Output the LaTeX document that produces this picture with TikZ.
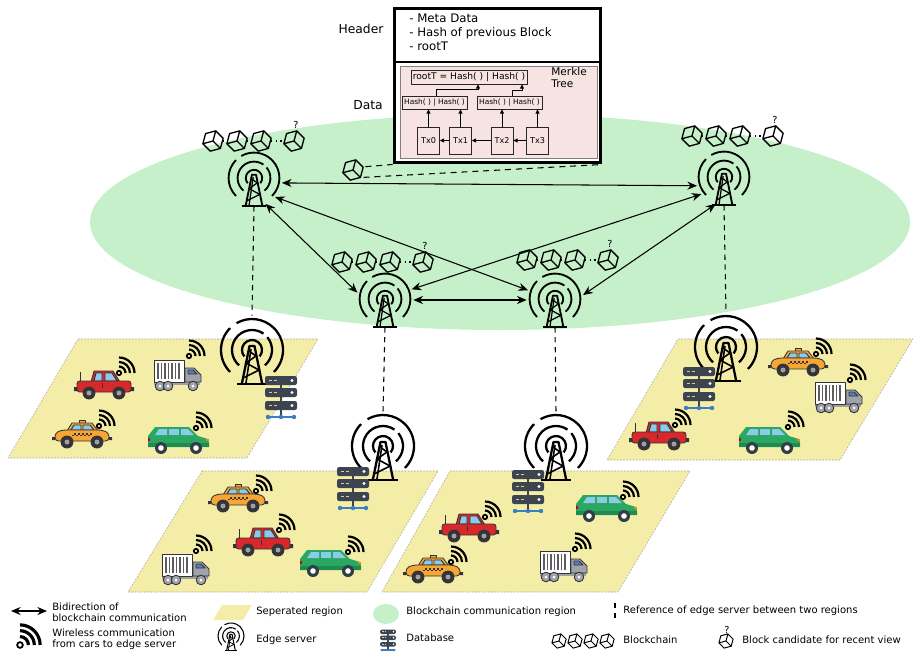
\documentclass[tikz,border=0pt]{standalone}
\usepackage{fontspec}
\setmainfont{DejaVu Sans}
\usetikzlibrary{arrows.meta,calc}

% colours
\definecolor{chaingreen}{RGB}{198,240,201}
\definecolor{regionyellow}{RGB}{244,237,168}
\definecolor{merklepink}{RGB}{247,228,226}
\definecolor{carred}{RGB}{216,40,44}
\definecolor{carorange}{RGB}{246,166,50}
\definecolor{carblue}{RGB}{140,202,234}
\definecolor{carout}{RGB}{52,52,56}
\definecolor{hubgray}{RGB}{160,160,160}
\definecolor{truckgray}{RGB}{160,164,170}
\definecolor{truckblue}{RGB}{84,124,184}
\definecolor{vangreen}{RGB}{42,168,98}
\definecolor{vandark}{RGB}{30,140,80}
\definecolor{vanwheel}{RGB}{46,62,68}
\definecolor{srvgray}{RGB}{60,68,80}
\definecolor{srvtan}{RGB}{214,206,160}
\definecolor{srvblue}{RGB}{58,126,196}

\tikzset{
  biarrow/.style={{Stealth[length=5.5pt,width=4.6pt]}-{Stealth[length=5.5pt,width=4.6pt]}, line width=0.6pt},
  marrow/.style={-{Triangle[length=2.4pt,width=2.2pt]}, line width=0.45pt},
  refline/.style={dash pattern=on 3pt off 2.6pt, line width=0.6pt},
  zoomline/.style={dash pattern=on 3.4pt off 2.8pt, line width=0.6pt},
  region/.style={fill=regionyellow, draw=gray!70, dash pattern=on 1pt off 0.8pt, line width=0.3pt},
  hub/.style={circle, minimum size=1.12cm, inner sep=0pt},
  edgehub/.style={circle, minimum size=1.36cm, inner sep=0pt},
  cubenode/.style={circle, minimum size=0.5cm, inner sep=0pt},
  blockframe/.style={draw, line width=1.7pt, fill=white, minimum width=4.14cm, minimum height=3.1cm},
  mbox/.style={draw=black!85, line width=0.4pt, inner sep=0pt},
  hashbox/.style={mbox, minimum width=1.3cm, minimum height=0.26cm, font=\fontsize{4.2}{5}\selectfont},
  txbox/.style={mbox, minimum width=0.44cm, minimum height=0.54cm, font=\fontsize{4.6}{5}\selectfont},
  sidelabel/.style={font=\fontsize{7}{8}\selectfont, inner sep=0pt},
  legendtext/.style={font=\fontsize{5.7}{6}\selectfont, anchor=west, align=left, inner sep=0pt},
  qmark/.style={font=\fontsize{5.5}{6}\selectfont, inner sep=0pt},
  towerline/.style={line width=1.3pt},
  towerbrace/.style={line width=0.9pt},
  cubeline/.style={line width=0.75pt, line join=round},
  chainlink/.style={dotted, line width=0.7pt},
  wifiline/.style={line width=1.25pt},
  carline/.style={draw=carout, line width=0.5pt, line join=round},
  % radio mast with waves, origin at the centre of the waves
  pics/tower/.style={code={
    \draw[towerline] (-40:10) arc[start angle=-40, end angle=220, radius=10];
    \draw[towerline] (-50:20) arc[start angle=-50, end angle=40, radius=20];
    \draw[towerline] (55:20) arc[start angle=55, end angle=230, radius=20];
    \draw[towerline] (-45:31) arc[start angle=-45, end angle=120, radius=31];
    \draw[towerline] (135:31) arc[start angle=135, end angle=225, radius=31];
    \draw[towerline, line join=round] (-10,-33) -- (-2.5,4) -- (2.5,4) -- (10,-33);
    \draw[towerbrace] (-6,-33) -- (-1,1);
    \draw[towerbrace] (-9,-28) -- (7,-20) -- (-6,-13) -- (4,-6) -- (-3,-1);
    \draw[towerline] (-15,-34) -- (15,-34);
  }},
  % rack of three servers
  pics/server/.style={code={
    \draw[srvblue, line width=0.7pt] (-13,-20) -- (13,-20);
    \draw[srvgray, line width=0.7pt] (0,12) -- (0,-20);
    \foreach \y in {16.5,4.5,-8.5} {
      \fill[srvgray, rounded corners=1.2] (-16,\y-4.5) rectangle (16,\y+4.5);
      \draw[srvtan, line width=0.7pt] (-12,\y) -- (-9,\y) (-7,\y) -- (-4,\y);
      \fill[white] (11,\y) circle[radius=1.6];
    }
    \foreach \x in {-13,0,13} \fill[srvblue] (\x,-20) circle[radius=2.2];
  }},
  % wireless signal, origin at the dot
  pics/wifi/.style={code={
    \draw[line width=1pt] (0,0) circle[radius=2.2];
    \foreach \r in {6.5,11,15.5} \draw[wifiline] (0,\r) arc[start angle=90, end angle=0, radius=\r];
  }},
  % one block
  pics/cube/.style={code={
    \draw[cubeline] (15:10.5) -- (75:10.5) -- (135:10.5) -- (195:10.5) -- (255:10.5) -- (315:10.5) -- cycle
      (0,0) -- (195:10.5) (0,0) -- (75:10.5) (0,0) -- (315:10.5);
  }},
  % chain of blocks with a candidate at the end
  pics/chain/.style={code={
    \foreach \x in {0,24,48,81} \pic at (\x,0) {cube};
    \draw[chainlink] (10,0) -- (14,0) (34,0) -- (38,0) (58,0) -- (71,0);
    \node[qmark] at (83,16) {?};
  }},
  pics/redcar/.style={code={
    \draw[carline] (-24,3) -- (-24,13);
    \filldraw[carline, fill=carred] (-13,3) -- (-10,14) -- (9,14) -- (16,3) -- cycle;
    \filldraw[carline, fill=carblue] (-10,4) -- (-8,12) -- (-2,12) -- (-2,4) -- cycle;
    \filldraw[carline, fill=carblue] (1,4) -- (1,12) -- (8,12) -- (13,4) -- cycle;
    \filldraw[carline, fill=carred, rounded corners=1.5] (-27,-7) rectangle (27,4);
    \draw[carline] (-2,-3) -- (-2,2);
    \fill[carout] (-30,-6) rectangle (-27,-2) (27,-6) rectangle (30,-2);
    \foreach \x in {-15,15} {
      \filldraw[carline, fill=carout] (\x,-8) circle[radius=6];
      \fill[hubgray] (\x,-8) circle[radius=2.5];
    }
  }},
  pics/taxi/.style={code={
    \filldraw[carline, fill=carorange] (-3,10) rectangle (3,14);
    \filldraw[carline, fill=carorange] (-15,3) -- (-10,11) -- (10,11) -- (16,3) -- cycle;
    \filldraw[carline, fill=carblue] (-11,4) -- (-8,9) -- (-1,9) -- (-1,4) -- cycle;
    \filldraw[carline, fill=carblue] (1,4) -- (1,9) -- (8,9) -- (12,4) -- cycle;
    \filldraw[carline, fill=carorange, rounded corners=2] (-27,-7) -- (-27,1) -- (-20,4) -- (20,4) -- (27,1) -- (27,-7) -- cycle;
    \foreach \x in {-10,-6,...,6} {
      \fill[carout] (\x,-2) rectangle ++(2,1.5);
      \fill[carout] (\x+2,-0.5) rectangle ++(2,1.5);
    }
    \fill[carout] (-30,-6) rectangle (-27,-3) (27,-6) rectangle (30,-3);
    \foreach \x in {-15,15} {
      \filldraw[carline, fill=carout] (\x,-8) circle[radius=6];
      \fill[hubgray] (\x,-8) circle[radius=2.5];
    }
  }},
  pics/truck/.style={code={
    \fill[hubgray] (-24,-9) rectangle (22,-6);
    \filldraw[carline, fill=white] (-24,-6) rectangle (6,16);
    \foreach \x in {-20,-16.5,...,3} \draw[carout!80, line width=1.1pt] (\x,-3) -- (\x,13);
    \filldraw[carline, fill=truckgray] (7,-6) -- (7,8) -- (16,8) -- (23,1) -- (23,-6) -- cycle;
    \filldraw[carline, fill=truckblue] (10,2) -- (10,6) -- (15,6) -- (19,2) -- cycle;
    \foreach \x in {-18,-10,15} {
      \filldraw[carline, fill=truckgray] (\x,-10) circle[radius=4.8];
      \fill[white] (\x,-10) circle[radius=1.5];
    }
  }},
  pics/van/.style={code={
    \fill[vangreen] (-30,-7) -- (-30,4) -- (-23,13) -- (11,13) -- (20,4) -- (30,1) -- (31,-3) -- (31,-7) -- cycle;
    \fill[vandark] (-30,-7) rectangle (31,-3);
    \fill[carblue] (-23,5) -- (-19,11) -- (-11,11) -- (-11,5) -- cycle;
    \fill[carblue] (-9,5) -- (-9,11) -- (1,11) -- (1,5) -- cycle;
    \fill[carblue] (3,5) -- (3,11) -- (10,11) -- (16,5) -- cycle;
    \fill[orange] (28,-1) rectangle (31,1);
    \fill[red!80!black] (-30,-1) rectangle (-28,2);
    \foreach \x in {-17,18} {
      \fill[vanwheel] (\x,-8) circle[radius=6];
      \fill[white] (\x,-8) circle[radius=2.8];
    }
  }},
}

\begin{document}
\begin{tikzpicture}[x=0.02cm, y=0.02cm]
\useasboundingbox (0,0) rectangle (913,-653);

% Blockchain communication region
\fill[chaingreen] (500,-222) ellipse[x radius=410, y radius=108];

% Seperated regions
\filldraw[region] (78,-339) -- (318,-339) -- (247,-458) -- (8,-458) -- cycle;
\filldraw[region] (202,-471) -- (438,-471) -- (367,-592) -- (128,-592) -- cycle;
\filldraw[region] (450,-471) -- (690,-471) -- (618,-592) -- (382,-592) -- cycle;
\filldraw[region] (678,-339) -- (913,-339) -- (840,-460) -- (607,-460) -- cycle;

% Block: header and data with the merkle tree
\node[blockframe] (blk) at (497.5,-85.5) {};
\draw[line width=1.4pt] (394,-62) -- (601,-62);
\filldraw[fill=merklepink, draw=gray, line width=0.5pt] (400,-66) rectangle (597,-158);
\node[anchor=north west, align=left, inner sep=0pt, font=\fontsize{6.7}{7.9}\selectfont] (hdr) at (409,-14) {- Meta Data\\- Hash of previous Block\\- rootT};
\node[sidelabel] (hdrlabel) at (361,-29) {Header};
\node[sidelabel] (datalabel) at (368,-105) {Data};
\node[anchor=north west, align=left, inner sep=0pt, font=\fontsize{6}{6.8}\selectfont] (mtree) at (551,-67) {Merkle\\Tree};
\node[mbox, minimum width=2.32cm, minimum height=0.28cm, font=\fontsize{5.2}{6}\selectfont] (root) at (469,-77) {rootT = Hash( ) | Hash( )};
\node[hashbox] (h01) at (434.5,-102.5) {Hash( ) | Hash( )};
\node[hashbox] (h23) at (509.5,-102.5) {Hash( ) | Hash( )};
\node[txbox] (tx0) at (428.5,-140.5) {Tx0};
\node[txbox] (tx1) at (460.5,-140.5) {Tx1};
\node[txbox] (tx2) at (502,-140.5) {Tx2};
\node[txbox] (tx3) at (537.5,-140.5) {Tx3};
\draw[marrow] (tx1) -- (tx0);
\draw[marrow] (tx2) -- (tx1);
\draw[marrow] (tx3) -- (tx2);
\draw[marrow] (tx0.north) -- (tx0.north |- h01.south);
\draw[marrow] (tx1.north) -- (tx1.north |- h01.south);
\draw[marrow] (tx2.north) -- (tx2.north |- h23.south);
\draw[marrow] (tx3.north) -- (tx3.north |- h23.south);
\draw[marrow] ($(h01.north)+(2,0)$) -- ++(0,6) -| ($(root.south)+(9,0)$);
\draw[marrow] ($(h23.north)+(2.5,0)$) -- ++(0,5) -| ($(root.south)+(53,0)$);

% Block candidate opened up above
\node[cubenode] (c0) at (353,-170) {};
\pic at (c0) {cube};
\draw[zoomline] (c0.15) -- (blk.south west);
\draw[zoomline] (c0.-35) -- (blk.south east);

% Blockchain nodes and their chains
\node[hub] (tw1) at (254,-178) {};
\node[hub] (tw2) at (724,-177) {};
\node[hub] (tw3) at (385,-299) {};
\node[hub] (tw4) at (555,-299) {};
\foreach \t in {tw1,tw2,tw3,tw4}
  \pic[scale=0.82, towerline/.style={line width=1.05pt}, towerbrace/.style={line width=0.7pt}] at (\t) {tower};
\pic at (213,-141) {chain};
\pic at (692,-136) {chain};
\pic at (342,-262) {chain};
\pic at (527,-260) {chain};

% Bidirectional blockchain communication
\draw[biarrow] (tw1.-10) -- (tw2.198);
\draw[biarrow] (tw1.-66) -- (tw3.167);
\draw[biarrow] (tw1.-42) -- (tw4.162);
\draw[biarrow] (tw2.217) -- (tw3.20);
\draw[biarrow] (tw2.253) -- (tw4.8);
\draw[biarrow] (tw3.-2) -- (tw4.182);

% Edge servers in the regions
\node[edgehub] (es1) at (252,-350) {};
\node[edgehub] (es2) at (726,-347) {};
\node[edgehub] (es3) at (383,-446) {};
\node[edgehub] (es4) at (556,-446) {};
\foreach \e in {es1,es2,es3,es4} \pic at (\e) {tower};
\draw[refline] (tw1.south) -- (es1.north);
\draw[refline] (tw2.south) -- (es2.north);
\draw[refline] (tw3.south) -- (es3.north);
\draw[refline] (tw4.south) -- (es4.north);
\pic at (281,-397) {server};
\pic at (353,-488) {server};
\pic at (528,-491) {server};
\pic at (699,-388) {server};

% Cars in the first region
\pic at (104,-385) {redcar};  \pic at (119,-373) {wifi};
\pic at (178,-376) {truck};   \pic at (189,-356) {wifi};
\pic at (82,-434) {taxi};     \pic at (99,-426) {wifi};
\pic at (178,-440) {van};     \pic at (196,-428) {wifi};
% second region
\pic at (238,-498) {taxi};    \pic at (256,-491) {wifi};
\pic at (263,-542) {redcar};  \pic at (279,-530) {wifi};
\pic at (186,-570) {truck};   \pic at (196,-551) {wifi};
\pic at (330,-563) {van};     \pic at (348,-552) {wifi};
% third region
\pic at (469,-528) {redcar};  \pic at (485,-517) {wifi};
\pic at (433,-569) {taxi};    \pic at (451,-562) {wifi};
\pic at (606,-508) {van};     \pic at (623,-497) {wifi};
\pic at (564,-567) {truck};   \pic at (575,-549) {wifi};
% fourth region
\pic at (798,-362) {taxi};    \pic at (816,-354) {wifi};
\pic at (839,-398) {truck};   \pic at (850,-380) {wifi};
\pic at (659,-436) {redcar};  \pic at (675,-425) {wifi};
\pic at (769,-440) {van};     \pic at (788,-427) {wifi};

% Legend
\coordinate (legl) at (11,-611);
\coordinate (legr) at (47,-611);
\draw[biarrow] (legl) -- (legr);
\node[legendtext] (lg1) at (52,-612) {Bidirection of\\blockchain communication};
\fill[regionyellow] (222,-605) -- (252,-605) -- (243,-620) -- (213,-620) -- cycle;
\node[legendtext] (lg2) at (256,-612) {Seperated region};
\fill[chaingreen] (386,-614) ellipse[x radius=13, y radius=10];
\node[legendtext] (lg3) at (406,-612) {Blockchain communication region};
\draw[refline] (615,-603) -- (615,-619);
\node[legendtext] (lg4) at (623,-611) {Reference of edge server between two regions};
\pic[scale=1.3, wifiline/.style={line width=1.8pt}] at (20,-645) {wifi};
\node[legendtext] (lg5) at (52,-639) {Wireless communication\\from cars to edge server};
\pic[scale=0.42, towerline/.style={line width=0.6pt}, towerbrace/.style={line width=0.4pt}] at (231,-636) {tower};
\node[legendtext] (lg6) at (256,-640) {Edge server};
\pic[scale=0.5] at (388,-640) {server};
\node[legendtext] (lg7) at (406,-638) {Database};
\foreach \x in {559,575,591,607} \pic[scale=0.7, cubeline/.style={line width=0.55pt}] at (\x,-641) {cube};
\node[legendtext] (lg8) at (623,-640) {Blockchain};
\pic[scale=0.7, cubeline/.style={line width=0.55pt}] at (726,-641) {cube};
\node[qmark] (lgq) at (727,-630) {?};
\node[legendtext] (lg9) at (742,-640) {Block candidate for recent view};
\end{tikzpicture}
\end{document}
